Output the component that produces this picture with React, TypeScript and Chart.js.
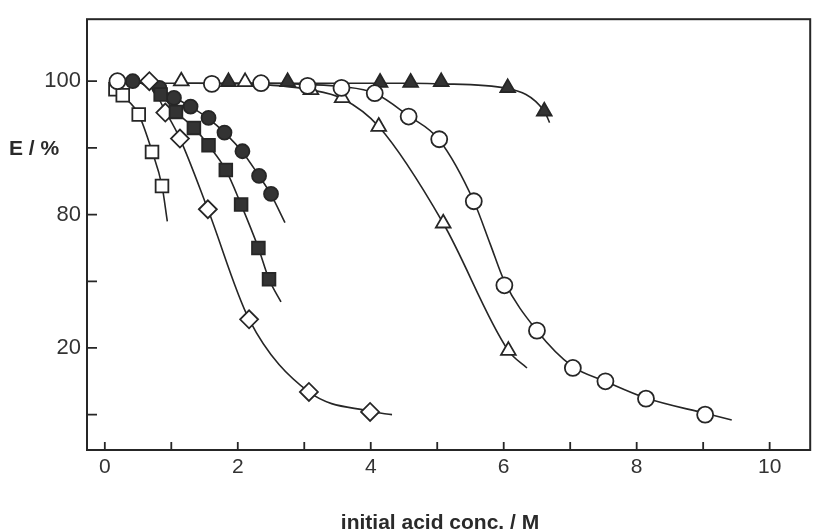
import React, { useEffect, useRef } from "react";
import { Chart, registerables } from "chart.js";

Chart.register(...registerables);

// x: initial acid conc. / M ; y: position on the (non-linear) E/% axis,
// measured in tick intervals (0..5), labelled 20 at 1, 80 at 3, 100 at 5.
const xTickValues = [0, 1, 2, 3, 4, 5, 6, 7, 8, 9, 10];
const xTickLabels: Record<number, string> = { 0: "0", 2: "2", 4: "4", 6: "6", 8: "8", 10: "10" };
const yTickValues = [0, 1, 2, 3, 4, 5];
const yTickLabels: Record<number, string> = { 1: "20", 3: "80", 5: "100" };

// markers
const openSquareX = [0.16, 0.27, 0.51, 0.71, 0.86];
const openSquareY = [4.88, 4.79, 4.5, 3.94, 3.43];
const filledCircleX = [0.42, 0.82, 1.04, 1.29, 1.56, 1.8, 2.07, 2.32, 2.5];
const filledCircleY = [5.0, 4.9, 4.75, 4.62, 4.45, 4.23, 3.95, 3.58, 3.31];
const openDiamondX = [0.67, 0.91, 1.13, 1.55, 2.17, 3.07, 3.99];
const openDiamondY = [5.0, 4.53, 4.14, 3.08, 1.43, 0.34, 0.04];
const filledSquareX = [0.84, 1.07, 1.34, 1.56, 1.82, 2.05, 2.31, 2.47];
const filledSquareY = [4.8, 4.54, 4.3, 4.04, 3.67, 3.15, 2.5, 2.03];
const openTriangleX = [1.15, 2.11, 3.1, 3.57, 4.12, 5.09, 6.07];
const openTriangleY = [5.0, 4.99, 4.87, 4.75, 4.32, 2.87, 0.96];
const openCircleX = [0.19, 1.61, 2.35, 3.05, 3.56, 4.06, 4.57, 5.03, 5.55, 6.01, 6.5, 7.04, 7.53, 8.14, 9.03];
const openCircleY = [5.0, 4.96, 4.97, 4.93, 4.9, 4.82, 4.47, 4.13, 3.2, 1.94, 1.26, 0.7, 0.5, 0.24, 0.0];
const filledTriangleX = [1.86, 2.75, 4.14, 4.6, 5.06, 6.06, 6.61];
const filledTriangleY = [4.99, 4.99, 4.98, 4.98, 4.99, 4.9, 4.55];

// fitted curves
const curveOpenSquareX = [0.12, 0.16, 0.27, 0.51, 0.71, 0.86, 0.94];
const curveOpenSquareY = [4.95, 4.88, 4.78, 4.5, 3.95, 3.43, 2.9];
const curveFilledCircleX = [0.3, 0.42, 0.82, 1.04, 1.29, 1.56, 1.8, 2.07, 2.32, 2.5, 2.71];
const curveFilledCircleY = [4.99, 4.99, 4.89, 4.76, 4.62, 4.44, 4.23, 3.94, 3.58, 3.3, 2.88];
const curveOpenDiamondX = [0.5, 0.67, 0.91, 1.13, 1.55, 2.17, 3.07, 3.99, 4.32];
const curveOpenDiamondY = [4.98, 4.95, 4.55, 4.14, 3.08, 1.43, 0.34, 0.05, 0.0];
const curveFilledSquareX = [0.55, 0.84, 1.07, 1.34, 1.56, 1.82, 2.05, 2.31, 2.47, 2.65];
const curveFilledSquareY = [4.97, 4.8, 4.54, 4.3, 4.04, 3.67, 3.15, 2.5, 2.03, 1.69];
const curveOpenTriangleX = [1.15, 2.11, 3.1, 3.57, 4.12, 5.09, 6.07, 6.35];
const curveOpenTriangleY = [4.97, 4.96, 4.87, 4.74, 4.32, 2.87, 0.96, 0.7];
const curveOpenCircleX = [0.12, 1.61, 2.35, 3.05, 3.56, 4.06, 4.57, 5.03, 5.55, 5.8, 6.01, 6.5, 7.04, 7.53, 8.14, 9.03, 9.43];
const curveOpenCircleY = [4.97, 4.97, 4.97, 4.95, 4.92, 4.82, 4.48, 4.12, 3.2, 2.55, 2.0, 1.26, 0.72, 0.5, 0.25, 0.02, -0.08];
const curveFilledTriangleX = [1.86, 2.75, 4.14, 4.6, 5.06, 6.06, 6.61, 6.69];
const curveFilledTriangleY = [4.97, 4.97, 4.97, 4.97, 4.96, 4.89, 4.55, 4.38];

const INK = "#262626";
const FILL = "#333333";

const pts = (xs: number[], ys: number[]) => xs.map((x, i) => ({ x, y: ys[i] }));

const markerSet = (xs: number[], ys: number[], style: string, r: number, filled: boolean) => ({
  type: "scatter" as const,
  data: pts(xs, ys),
  showLine: false,
  pointStyle: style,
  pointRadius: r,
  pointHoverRadius: r,
  pointBackgroundColor: filled ? FILL : "#ffffff",
  pointBorderColor: INK,
  pointBorderWidth: 1.8,
  order: 0,
});

const curveSet = (xs: number[], ys: number[]) => ({
  type: "scatter" as const,
  data: pts(xs, ys),
  showLine: true,
  borderColor: INK,
  borderWidth: 1.6,
  pointRadius: 0,
  pointHoverRadius: 0,
  cubicInterpolationMode: "monotone" as const,
  fill: false,
  order: 1,
});

const axesPlugin = {
  id: "axesPlugin",
  beforeDraw(chart: any) {
    const { ctx, width, height } = chart;
    ctx.save();
    ctx.fillStyle = "#ffffff";
    ctx.fillRect(0, 0, width, height);
    ctx.restore();
  },
  afterDraw(chart: any) {
    const { ctx, chartArea } = chart;
    const xs = chart.scales.x;
    const ys = chart.scales.y;
    ctx.save();
    ctx.strokeStyle = INK;
    ctx.lineWidth = 2;
    ctx.strokeRect(chartArea.left, chartArea.top, chartArea.right - chartArea.left, chartArea.bottom - chartArea.top);
    ctx.lineWidth = 1.8;
    ctx.beginPath();
    xTickValues.forEach((v) => {
      const px = xs.getPixelForValue(v);
      ctx.moveTo(px, chartArea.bottom);
      ctx.lineTo(px, chartArea.bottom - 8);
    });
    yTickValues.forEach((v) => {
      const py = ys.getPixelForValue(v);
      ctx.moveTo(chartArea.left, py);
      ctx.lineTo(chartArea.left + 10, py);
    });
    ctx.stroke();
    ctx.fillStyle = "#2a2a2a";
    ctx.font = "bold 21px 'Liberation Sans', Arial, sans-serif";
    ctx.textBaseline = "alphabetic";
    ctx.textAlign = "left";
    ctx.fillText("E / %", 9, 155);
    ctx.textAlign = "center";
    ctx.fillText("initial acid conc. / M", 440, 529);
    ctx.restore();
  },
};

export default function App() {
  const ref = useRef<HTMLCanvasElement | null>(null);
  useEffect(() => {
    if (!ref.current) return;
    const chart = new Chart(ref.current, {
      type: "scatter",
      data: {
        datasets: [
          curveSet(curveOpenSquareX, curveOpenSquareY),
          curveSet(curveFilledCircleX, curveFilledCircleY),
          curveSet(curveOpenDiamondX, curveOpenDiamondY),
          curveSet(curveFilledSquareX, curveFilledSquareY),
          curveSet(curveOpenTriangleX, curveOpenTriangleY),
          curveSet(curveOpenCircleX, curveOpenCircleY),
          curveSet(curveFilledTriangleX, curveFilledTriangleY),
          markerSet(openCircleX, openCircleY, "circle", 8, false),
          markerSet(filledTriangleX, filledTriangleY, "triangle", 8.5, true),
          markerSet(openTriangleX, openTriangleY, "triangle", 8.5, false),
          markerSet(filledSquareX, filledSquareY, "rect", 9, true),
          markerSet(openDiamondX, openDiamondY, "rectRot", 9, false),
          markerSet(filledCircleX, filledCircleY, "circle", 7, true),
          markerSet(openSquareX, openSquareY, "rect", 9, false),
        ] as any,
      },
      options: {
        animation: false,
        responsive: false,
        devicePixelRatio: 1,
        layout: { padding: { left: 0, right: 3, top: 13, bottom: 0 } },
        plugins: { legend: { display: false }, tooltip: { enabled: false } },
        events: [],
        scales: {
          x: {
            type: "linear",
            min: -0.268,
            max: 10.61,
            afterBuildTicks: (s: any) => {
              s.ticks = xTickValues.map((value) => ({ value }));
            },
            afterFit: (s: any) => {
              s.height = 82;
            },
            grid: { display: false, drawTicks: false },
            border: { display: false },
            ticks: {
              autoSkip: false,
              maxRotation: 0,
              padding: 5,
              color: "#333333",
              font: { family: "'Liberation Sans', Arial, sans-serif", size: 21 },
              callback: (v: any) => xTickLabels[v as number] ?? "",
            },
          },
          y: {
            type: "linear",
            min: -0.53,
            max: 5.93,
            afterBuildTicks: (s: any) => {
              s.ticks = yTickValues.map((value) => ({ value }));
            },
            afterFit: (s: any) => {
              s.width = 87;
            },
            grid: { display: false, drawTicks: false },
            border: { display: false },
            ticks: {
              autoSkip: false,
              padding: 6,
              color: "#333333",
              font: { family: "'Liberation Sans', Arial, sans-serif", size: 22 },
              callback: (v: any) => yTickLabels[v as number] ?? "",
            },
          },
        },
      },
      plugins: [axesPlugin],
    });
    return () => chart.destroy();
  }, []);
  return (
    <div style={{ position: "absolute", left: 0, top: 0, width: 821, height: 532 }}>
      <canvas ref={ref} width={821} height={532} />
    </div>
  );
}
